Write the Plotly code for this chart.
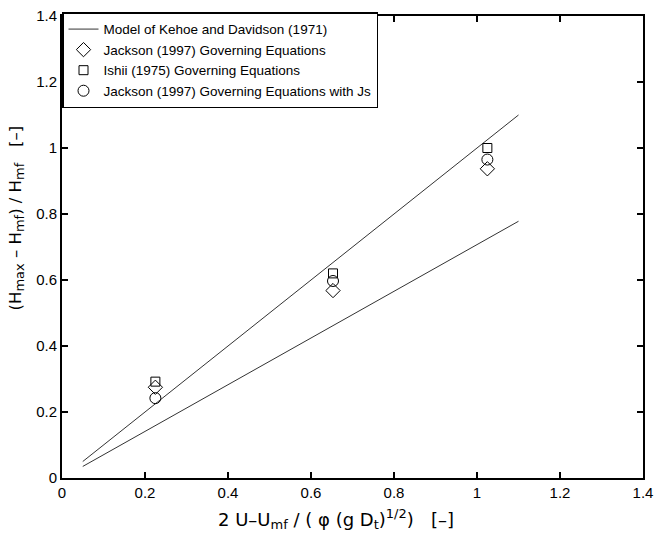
import plotly.graph_objects as go

# Model of Kehoe and Davidson (1971): two model lines
model_x = [0.05, 1.10]
model_upper_y = [0.05, 1.10]
model_lower_y = [0.035, 0.778]

# Simulation points
sim_x = [0.225, 0.653, 1.025]
jackson_y = [0.275, 0.568, 0.937]
ishii_y = [0.292, 0.620, 1.000]
jackson_js_y = [0.242, 0.597, 0.965]

tick_vals = [0, 0.2, 0.4, 0.6, 0.8, 1.0, 1.2, 1.4]
tick_text = ["0", "0.2", "0.4", "0.6", "0.8", "1", "1.2", "1.4"]

FONT = "Liberation Sans, Arial, Helvetica, sans-serif"
TFONT = "DejaVu Sans, Liberation Sans, sans-serif"
line_col = "#333333"
NB = "\u00a0"


def sub(t):
    return "<sub><span style='font-size:13px'>" + t + "</span></sub>"


def sup(t):
    return "<sup><span style='font-size:13px'>" + t + "</span></sup>"


x_title = ("2 U\u2013U" + sub("mf") + " / ( \u03c6 (g D" + sub("t") + ")" + sup("1/2")
           + ")" + NB * 3 + "[\u2013]")
y_title = ("(H" + sub("max") + " \u2013 H" + sub("mf") + ") / H" + sub("mf")
           + NB * 3 + "[\u2013]")

fig = go.Figure()
fig.add_trace(go.Scatter(x=model_x, y=model_upper_y, mode="lines",
                         line=dict(color=line_col, width=1),
                         name="Model of Kehoe and Davidson (1971)", legendgroup="m"))
fig.add_trace(go.Scatter(x=model_x, y=model_lower_y, mode="lines",
                         line=dict(color=line_col, width=1),
                         name="model2", showlegend=False, legendgroup="m"))
fig.add_trace(go.Scatter(x=sim_x, y=jackson_y, mode="markers",
                         marker=dict(symbol="diamond-open", size=11, color="black",
                                     line=dict(width=1, color="black")),
                         name="Jackson (1997) Governing Equations"))
fig.add_trace(go.Scatter(x=sim_x, y=ishii_y, mode="markers",
                         marker=dict(symbol="square-open", size=9, color="black",
                                     line=dict(width=1, color="black")),
                         name="Ishii (1975) Governing Equations"))
fig.add_trace(go.Scatter(x=sim_x, y=jackson_js_y, mode="markers",
                         marker=dict(symbol="circle-open", size=11, color="black",
                                     line=dict(width=1, color="black")),
                         name="Jackson (1997) Governing Equations with Js"))

axis_common = dict(
    showgrid=False, zeroline=False, showline=True, linecolor="black", linewidth=2,
    mirror="ticks", ticks="inside", ticklen=6, tickwidth=1.5, tickcolor="black",
    tickvals=tick_vals, ticktext=tick_text, automargin=False,
    tickfont=dict(family=FONT, size=15, color="black"),
)

fig.update_layout(
    width=659, height=537,
    margin=dict(l=62, r=16, t=12, b=59),
    paper_bgcolor="white", plot_bgcolor="white",
    font=dict(family=FONT, size=15, color="black"),
    xaxis=dict(range=[0, 1.4], **axis_common),
    yaxis=dict(range=[0, 1.4], **axis_common),
    legend=dict(x=0.0, y=1.008, xanchor="left", yanchor="top",
                bgcolor="white", bordercolor="black", borderwidth=1.5,
                font=dict(size=13.5), tracegroupgap=0, itemwidth=30,
                traceorder="normal"),
    showlegend=True,
    annotations=[
        dict(text=x_title, xref="paper", yref="paper", x=0.472, y=-0.088,
             xanchor="center", yanchor="middle", showarrow=False,
             font=dict(family=TFONT, size=18, color="black")),
        dict(text=y_title, xref="paper", yref="paper", x=-0.079, y=0.562,
             xanchor="center", yanchor="middle", showarrow=False, textangle=-90,
             font=dict(family=TFONT, size=16.5, color="black")),
    ],
)

fig.write_html("out.html")
